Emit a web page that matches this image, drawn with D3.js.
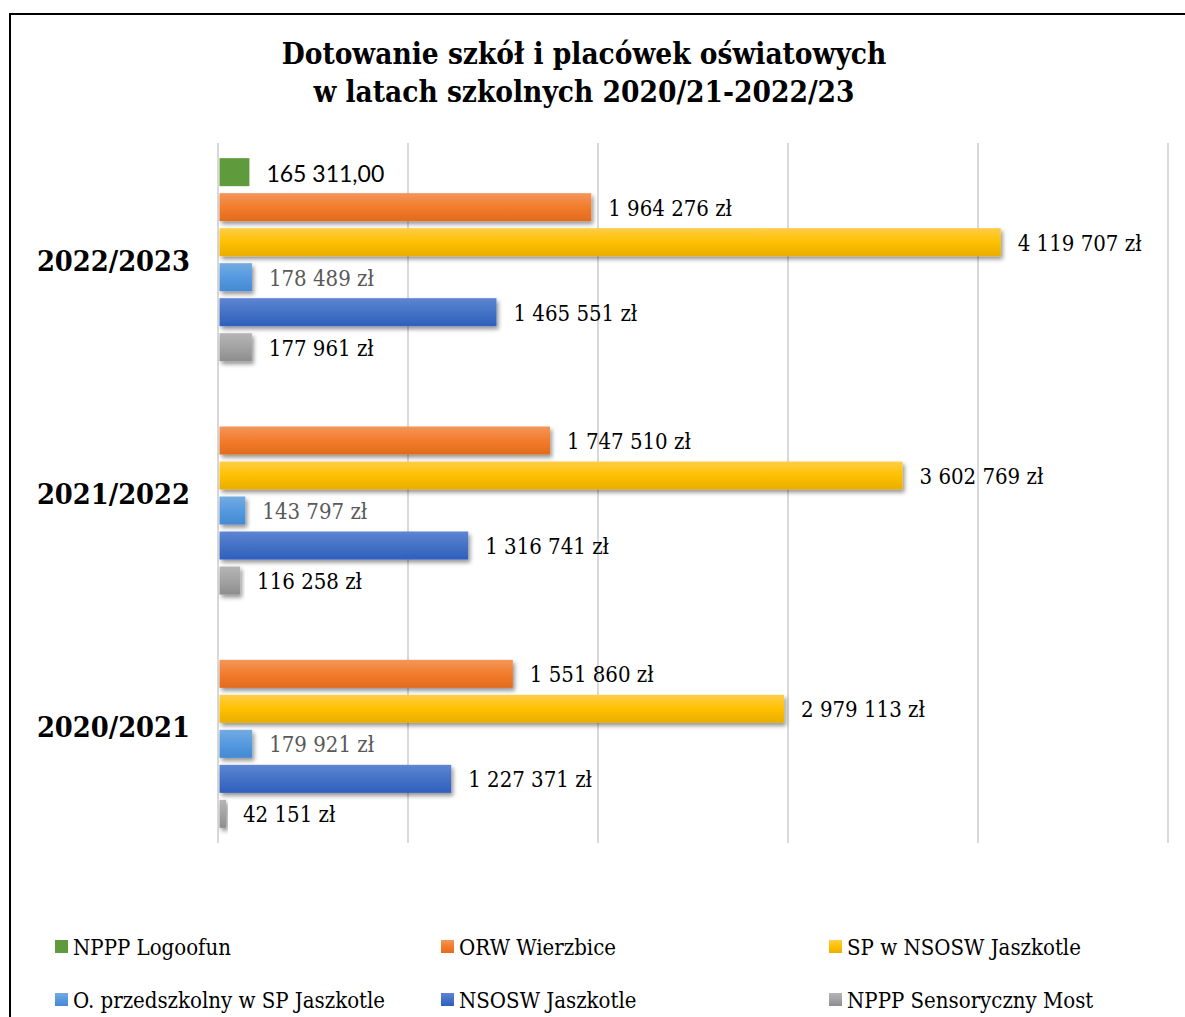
<!DOCTYPE html>
<html><head><meta charset="utf-8">
<script src="https://cdn.jsdelivr.net/npm/d3@7/dist/d3.min.js"></script>
<style>
html,body{margin:0;padding:0;background:#fff;}
svg{display:block;}
.serif{font-family:"DejaVu Serif Condensed","DejaVu Serif",serif;font-stretch:condensed;}
</style></head>
<body>
<svg id="chart" width="1185" height="1017"></svg>
<script>
const years = ["2022/2023", "2021/2022", "2020/2021"];
const series = ["NPPP Logoofun", "ORW Wierzbice", "SP w NSOSW Jaszkotle", "O. przedszkolny w SP Jaszkotle", "NSOSW Jaszkotle", "NPPP Sensoryczny Most"];
const valLogoofun   = [165311, null, null];
const valORW        = [1964276, 1747510, 1551860];
const valSP         = [4119707, 3602769, 2979113];
const valPrzedszk   = [178489, 143797, 179921];
const valNSOSW      = [1465551, 1316741, 1227371];
const valSensory    = [177961, 116258, 42151];
const xTicks = [0, 1000000, 2000000, 3000000, 4000000, 5000000];
const titleLines = ["Dotowanie szkół i placówek oświatowych", "w latach szkolnych 2020/21-2022/23"];

const allValues = [valLogoofun, valORW, valSP, valPrzedszk, valNSOSW, valSensory];
const grads = [
  null,
  ["#f4965a", "#f27c2c", "#e26b1c"],
  ["#ffcd48", "#ffc000", "#e9ae00"],
  ["#74abe0", "#559ae0", "#4489d2"],
  ["#5f84d4", "#4472c4", "#2f5fbe"],
  ["#b5b5b5", "#a3a3a3", "#8d8d8d"]
];
const solid = ["#5f9a3d", "#f07c2c", "#ffc000", "#5b9bd5", "#4472c4", "#a5a5a5"];
const labelColors = ["#000", "#000", "#000", "#595959", "#000", "#000"];

const loc = d3.formatLocale({decimal: ",", thousands: "\u00a0", grouping: [3], currency: ["", " zł"]});
const fmtZl = v => loc.format(",d")(v) + " zł";
const fmtDec = v => loc.format(",.2f")(v);

const svg = d3.select("#chart");
const defs = svg.append("defs");
const f = defs.append("filter").attr("id", "sh").attr("x", "-10%").attr("y", "-30%").attr("width", "130%").attr("height", "180%");
f.append("feDropShadow").attr("dx", 2).attr("dy", 3).attr("stdDeviation", 2.2).attr("flood-color", "#000").attr("flood-opacity", 0.42);

grads.forEach((g, i) => {
  if (!g) return;
  const lg = defs.append("linearGradient").attr("id", "g" + i).attr("x1", 0).attr("y1", 0).attr("x2", 0).attr("y2", 1);
  lg.append("stop").attr("offset", "0%").attr("stop-color", g[0]);
  lg.append("stop").attr("offset", "50%").attr("stop-color", g[1]);
  lg.append("stop").attr("offset", "100%").attr("stop-color", g[2]);
});

// frame
svg.append("path").attr("d", "M10,1017V14H1185").attr("fill", "none").attr("stroke", "#000").attr("stroke-width", 2);

// title
svg.append("text").attr("class", "serif").attr("x", 584).attr("text-anchor", "middle")
  .attr("font-weight", "bold").attr("font-size", 29.5).attr("fill", "#000")
  .selectAll("tspan").data(titleLines).join("tspan")
  .attr("x", 584).attr("y", (d, i) => 64 + i * 38).text(d => d);

const x = d3.scaleLinear().domain([0, 5000000]).range([218, 1168]);
const y0 = d3.scaleBand().domain(years).range([143, 843]);
const y1 = d3.scaleBand().domain(series).range([0, y0.bandwidth()]).paddingInner(0.2).paddingOuter(0.433);

// gridlines
svg.append("g").selectAll("line").data(xTicks).join("line")
  .attr("x1", d => x(d)).attr("x2", d => x(d)).attr("y1", 143).attr("y2", 843)
  .attr("stroke", "#d9d9d9").attr("stroke-width", 2);

// category labels
svg.append("g").selectAll("text").data(years).join("text")
  .attr("class", "serif")
  .attr("x", 190).attr("y", d => y0(d) + y0.bandwidth() / 2 + 1)
  .attr("text-anchor", "end").attr("dominant-baseline", "central")
  .attr("font-weight", "bold").attr("font-size", 28.7).attr("fill", "#000").text(d => d);

const data = [];
years.forEach((yr, yi) => series.forEach((s, si) => {
  const v = allValues[si][yi];
  if (v != null) data.push({yr, s, si, v});
}));

const x0 = x(0) + 1.5;
svg.append("g").selectAll("rect").data(data).join("rect")
  .attr("x", x0)
  .attr("y", d => y0(d.yr) + y1(d.s))
  .attr("width", d => x(d.v) - x0)
  .attr("height", y1.bandwidth())
  .attr("fill", d => grads[d.si] ? `url(#g${d.si})` : solid[d.si])
  .attr("filter", d => grads[d.si] ? "url(#sh)" : null);

svg.append("g").selectAll("text").data(data).join("text")
  .attr("x", d => x(d.v) + 17)
  .attr("y", d => y0(d.yr) + y1(d.s) + y1.bandwidth() / 2 + 1)
  .attr("dominant-baseline", "central")
  .attr("font-family", d => d.si === 0 ? "Lato, sans-serif" : null)
  .attr("class", d => d.si === 0 ? null : "serif")
  .attr("font-size", d => d.si === 0 ? 23 : 22)
  .attr("fill", d => labelColors[d.si])
  .text(d => d.si === 0 ? fmtDec(d.v) : fmtZl(d.v));

// legend
const legX = [55, 441, 829], legY = [946, 999];
const lg = svg.append("g").selectAll("g").data(series).join("g")
  .attr("transform", (d, i) => `translate(${legX[i % 3]},${legY[Math.floor(i / 3)]})`);
lg.append("rect").attr("x", 0).attr("y", -6).attr("width", 13).attr("height", 13)
  .attr("fill", (d, i) => grads[i] ? `url(#g${i})` : solid[i]);
lg.append("text").attr("class", "serif").attr("x", 18).attr("y", 1)
  .attr("dominant-baseline", "central").attr("font-size", 22).attr("fill", "#000").text(d => d);
</script>
</body></html>
